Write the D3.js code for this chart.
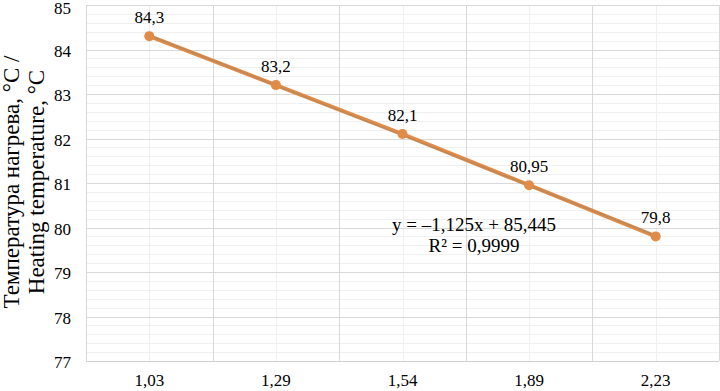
<!DOCTYPE html>
<html>
<head>
<meta charset="utf-8">
<script src="https://cdn.jsdelivr.net/npm/d3@7"></script>
<style>
  body { margin: 0; background: #fff; }
  svg text { font-family: "Liberation Serif", "Times New Roman", "DejaVu Serif", serif; fill: #000; }
</style>
</head>
<body>
<div id="chart"></div>
<script>
"use strict";

// data
const categories = ["1,03", "1,29", "1,54", "1,89", "2,23"];
const temps = [84.3, 83.2, 82.1, 80.95, 79.8];
const pointLabels = ["84,3", "83,2", "82,1", "80,95", "79,8"];
const yTicks = [77, 78, 79, 80, 81, 82, 83, 84, 85];
const trendSlope = -1.125, trendIntercept = 85.445;
const equationLines = ["y = \u20131,125x + 85,445", "R\u00B2 = 0,9999"];

const serif = "'Liberation Serif', 'Times New Roman', serif";

const W = 720, H = 391;
const margin = { left: 86, top: 5, right: 1, bottom: 30 },
      w = W - margin.left - margin.right,
      h = H - margin.top - margin.bottom;

const svg = d3.select("#chart").append("svg")
  .attr("width", W).attr("height", H)
  .attr("font-family", serif);

const chart = svg.append("g")
  .attr("transform", "translate(" + margin.left + "," + margin.top + ")");

const x = d3.scaleBand().domain(categories).range([0, w]).padding(0),
      y = d3.scaleLinear().domain([77, 85]).range([h, 0]);

// minor horizontal grid (every 0.2)
const minor = d3.range(77.2, 85, 0.2).filter(function(v) { return Math.abs(v - Math.round(v)) > 0.01; });
chart.append("g").selectAll("line").data(minor).join("line")
  .attr("x1", 0).attr("x2", w)
  .attr("y1", function(d) { return Math.round(y(d)) + 0.5; })
  .attr("y2", function(d) { return Math.round(y(d)) + 0.5; })
  .attr("stroke", "#f0f0f0");

// minor vertical grid at category centres
chart.append("g").selectAll("line").data(categories).join("line")
  .attr("x1", function(d) { return Math.round(x(d) + x.bandwidth() / 2) + 0.5; })
  .attr("x2", function(d) { return Math.round(x(d) + x.bandwidth() / 2) + 0.5; })
  .attr("y1", 0).attr("y2", h)
  .attr("stroke", "#f0f0f0");

// major horizontal grid
chart.append("g").selectAll("line").data(yTicks.slice(1)).join("line")
  .attr("x1", 0).attr("x2", w)
  .attr("y1", function(d) { return Math.round(y(d)) + 0.5; })
  .attr("y2", function(d) { return Math.round(y(d)) + 0.5; })
  .attr("stroke", "#d9d9d9");

// major vertical grid at band edges
chart.append("g").selectAll("line").data(categories).join("line")
  .attr("x1", function(d) { return Math.round(x(d) + x.bandwidth()) + 0.5; })
  .attr("x2", function(d) { return Math.round(x(d) + x.bandwidth()) + 0.5; })
  .attr("y1", 0).attr("y2", h)
  .attr("stroke", "#d9d9d9");

// left and bottom axis lines
chart.append("line").attr("x1", 0.5).attr("x2", 0.5).attr("y1", 0).attr("y2", h).attr("stroke", "#d9d9d9");
chart.append("line").attr("x1", 0).attr("x2", w).attr("y1", h + 0.5).attr("y2", h + 0.5).attr("stroke", "#d0d0d0");

// y-axis labels
const yAxis = chart.append("g")
  .call(d3.axisLeft(y).tickValues(yTicks).tickSize(0).tickPadding(15).tickFormat(d3.format("d")))
  .attr("font-family", serif).attr("font-size", 17);
yAxis.select(".domain").remove();
yAxis.selectAll("text").attr("dy", "0.4em")
  .attr("y", function(d) { return d === 85 ? 2 : 0; });

// x-axis labels
const xAxis = chart.append("g")
  .attr("transform", "translate(0," + h + ")")
  .call(d3.axisBottom(x).tickSize(0).tickPadding(13))
  .attr("font-family", serif).attr("font-size", 17);
xAxis.select(".domain").remove();

// series line + markers
const cx = function(d, i) { return x(categories[i]) + x.bandwidth() / 2; };
const line = d3.line().x(cx).y(function(d) { return y(d); });
chart.append("path").datum(temps)
  .attr("d", line).attr("fill", "none")
  .attr("stroke", "#E08B47").attr("stroke-width", 4).attr("stroke-linejoin", "round");

// linear trendline over the series
const trend = categories.map(function(c, i) { return trendIntercept + trendSlope * (i + 1); });
chart.append("path").datum(trend)
  .attr("d", line).attr("fill", "none")
  .attr("stroke", "#A98766").attr("stroke-width", 1.5).attr("opacity", 0.6);

chart.append("g").selectAll("circle").data(temps).join("circle")
  .attr("cx", cx).attr("cy", function(d) { return y(d); })
  .attr("r", 5).attr("fill", "#E08B47");

// point labels
chart.append("g").selectAll("text").data(temps).join("text")
  .attr("x", cx).attr("y", function(d) { return y(d) - 13; })
  .attr("text-anchor", "middle").attr("font-size", 17)
  .text(function(d, i) { return pointLabels[i]; });

// trendline equation
chart.append("g").selectAll("text").data(equationLines).join("text")
  .attr("x", 474 - margin.left).attr("y", function(d, i) { return 231 - margin.top + i * 21; })
  .attr("text-anchor", "middle").attr("font-size", 19)
  .text(function(d) { return d; });

// y-axis title, two lines
const title = svg.append("text")
  .attr("transform", "translate(0," + 182 + ") rotate(-90)")
  .attr("text-anchor", "middle").attr("font-size", 23);
title.append("tspan").attr("x", 0).attr("y", 19).text("Температура нагрева, °С /");
title.append("tspan").attr("x", 0).attr("y", 44).text("Heating temperature, °С");
</script>
</body>
</html>
